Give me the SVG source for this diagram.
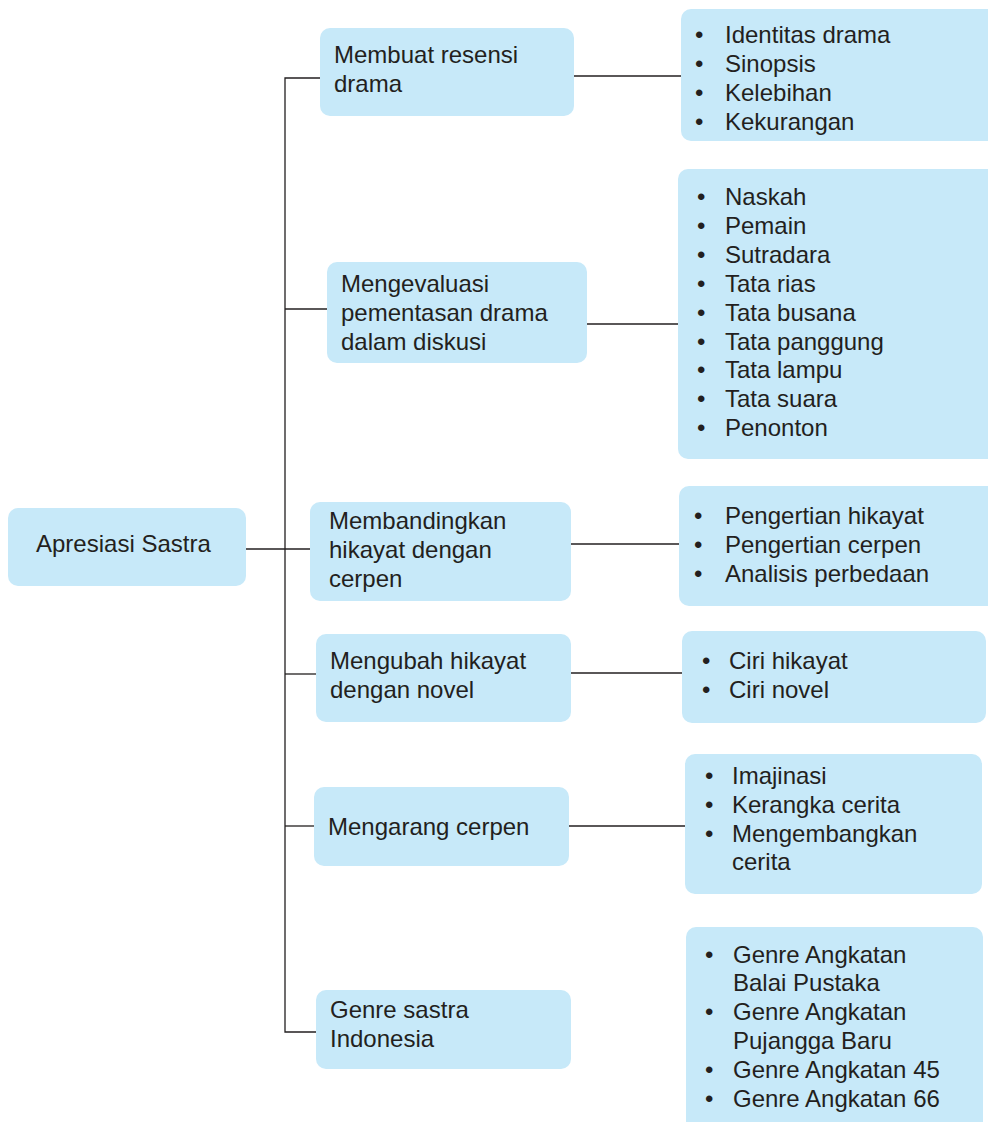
<svg xmlns="http://www.w3.org/2000/svg" width="988" height="1122" viewBox="0 0 988 1122">
<style>
.box{fill:#c7e9f9;}
.t{font-family:"Liberation Sans",Arial,sans-serif;font-size:24px;fill:#231f20;}
.ln{stroke:#231f20;stroke-width:1.3;fill:none;}
</style>
<rect width="988" height="1122" fill="#ffffff"/>
<g id="connectors">
<path class="ln" d="M320 78 H285 V1032 H316"/>
<path class="ln" d="M246 549 H310"/>
<path class="ln" d="M285 309 H327"/>
<path class="ln" d="M285 674 H316"/>
<path class="ln" d="M285 826 H314"/>
<path class="ln" d="M574 76 H681"/>
<path class="ln" d="M587 324 H678"/>
<path class="ln" d="M571 544 H679"/>
<path class="ln" d="M571 673 H682"/>
<path class="ln" d="M569 826 H685"/>
</g>
<g id="root">
<rect class="box" x="8" y="508" width="238" height="78" rx="10"/>
<text class="t" x="36" y="552">Apresiasi Sastra</text>
</g>
<g id="m1">
<rect class="box" x="320" y="28" width="254" height="88" rx="10"/>
<text class="t" x="334" y="63">Membuat resensi</text>
<text class="t" x="334" y="92">drama</text>
</g>
<g id="m2">
<rect class="box" x="327" y="262" width="260" height="101" rx="10"/>
<text class="t" x="341" y="292">Mengevaluasi</text>
<text class="t" x="341" y="321">pementasan drama</text>
<text class="t" x="341" y="350">dalam diskusi</text>
</g>
<g id="m3">
<rect class="box" x="310" y="502" width="261" height="99" rx="10"/>
<text class="t" x="329" y="529">Membandingkan</text>
<text class="t" x="329" y="558">hikayat dengan</text>
<text class="t" x="329" y="587">cerpen</text>
</g>
<g id="m4">
<rect class="box" x="316" y="634" width="255" height="88" rx="10"/>
<text class="t" x="330" y="669">Mengubah hikayat</text>
<text class="t" x="330" y="698">dengan novel</text>
</g>
<g id="m5">
<rect class="box" x="314" y="787" width="255" height="79" rx="10"/>
<text class="t" x="328" y="835">Mengarang cerpen</text>
</g>
<g id="m6">
<rect class="box" x="316" y="990" width="255" height="79" rx="10"/>
<text class="t" x="330" y="1018">Genre sastra</text>
<text class="t" x="330" y="1047">Indonesia</text>
</g>
<g id="r1">
<rect class="box" x="681" y="9" width="320" height="132" rx="10"/>
<text class="t" x="695" y="43">•</text><text class="t" x="725" y="43">Identitas drama</text>
<text class="t" x="695" y="72">•</text><text class="t" x="725" y="72">Sinopsis</text>
<text class="t" x="695" y="101">•</text><text class="t" x="725" y="101">Kelebihan</text>
<text class="t" x="695" y="130">•</text><text class="t" x="725" y="130">Kekurangan</text>
</g>
<g id="r2">
<rect class="box" x="678" y="169" width="322" height="290" rx="10"/>
<text class="t" x="697" y="205">•</text><text class="t" x="725" y="205">Naskah</text>
<text class="t" x="697" y="234">•</text><text class="t" x="725" y="234">Pemain</text>
<text class="t" x="697" y="263">•</text><text class="t" x="725" y="263">Sutradara</text>
<text class="t" x="697" y="292">•</text><text class="t" x="725" y="292">Tata rias</text>
<text class="t" x="697" y="321">•</text><text class="t" x="725" y="321">Tata busana</text>
<text class="t" x="697" y="350">•</text><text class="t" x="725" y="350">Tata panggung</text>
<text class="t" x="697" y="378">•</text><text class="t" x="725" y="378">Tata lampu</text>
<text class="t" x="697" y="407">•</text><text class="t" x="725" y="407">Tata suara</text>
<text class="t" x="697" y="436">•</text><text class="t" x="725" y="436">Penonton</text>
</g>
<g id="r3">
<rect class="box" x="679" y="486" width="320" height="120" rx="10"/>
<text class="t" x="694" y="524">•</text><text class="t" x="725" y="524">Pengertian hikayat</text>
<text class="t" x="694" y="553">•</text><text class="t" x="725" y="553">Pengertian cerpen</text>
<text class="t" x="694" y="582">•</text><text class="t" x="725" y="582">Analisis perbedaan</text>
</g>
<g id="r4">
<rect class="box" x="682" y="631" width="304" height="92" rx="10"/>
<text class="t" x="702" y="669">•</text><text class="t" x="729" y="669">Ciri hikayat</text>
<text class="t" x="702" y="698">•</text><text class="t" x="729" y="698">Ciri novel</text>
</g>
<g id="r5">
<rect class="box" x="685" y="754" width="297" height="140" rx="10"/>
<text class="t" x="705" y="784">•</text><text class="t" x="732" y="784">Imajinasi</text>
<text class="t" x="705" y="813">•</text><text class="t" x="732" y="813">Kerangka cerita</text>
<text class="t" x="705" y="842">•</text><text class="t" x="732" y="842">Mengembangkan</text>
<text class="t" x="732" y="870">cerita</text>
</g>
<g id="r6">
<rect class="box" x="686" y="927" width="297" height="210" rx="10"/>
<text class="t" x="705" y="963">•</text><text class="t" x="733" y="963">Genre Angkatan</text>
<text class="t" x="733" y="991">Balai Pustaka</text>
<text class="t" x="705" y="1020">•</text><text class="t" x="733" y="1020">Genre Angkatan</text>
<text class="t" x="733" y="1049">Pujangga Baru</text>
<text class="t" x="705" y="1078">•</text><text class="t" x="733" y="1078">Genre Angkatan 45</text>
<text class="t" x="705" y="1107">•</text><text class="t" x="733" y="1107">Genre Angkatan 66</text>
</g>
</svg>
